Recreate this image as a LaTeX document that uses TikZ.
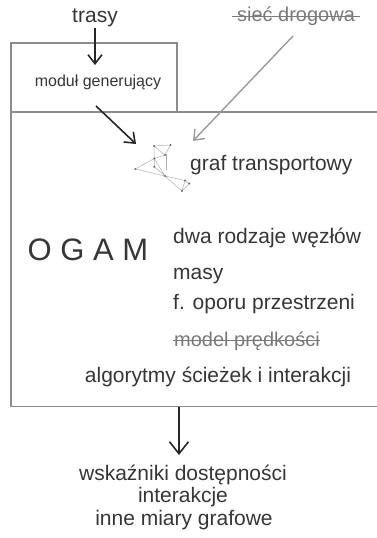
\documentclass[tikz,border=0pt]{standalone}
\usepackage{fontspec}
\setmainfont{Liberation Sans}
\usetikzlibrary{arrows.meta}
\definecolor{txt}{HTML}{363636}
\definecolor{strk}{HTML}{7A7A7A}
\definecolor{boxc}{HTML}{8C8C8C}
\definecolor{grayarr}{HTML}{9A9A9A}
\definecolor{gedge}{HTML}{B0B0B0}
\definecolor{gdot}{HTML}{707070}
\begin{document}
\begin{tikzpicture}[x=1pt,y=-1pt,
  lbl/.style={inner sep=0pt,text=txt,font=\fontsize{21}{24}\selectfont},
  small/.style={inner sep=0pt,text=txt,font=\fontsize{16}{19}\selectfont},
  struck/.style={inner sep=0pt,text=strk,font=\fontsize{20}{24}\selectfont},
  strikeline/.style={draw=strk,line width=1pt},
  boxline/.style={draw=boxc,line width=1.2pt},
  darrow/.style={draw=black!85,line width=1.6pt,-{Straight Barb[length=9pt,width=14pt]}},
  garrow/.style={draw=grayarr,line width=1.4pt,-{Straight Barb[length=9pt,width=14pt]}},
  gedge/.style={draw=gedge,line width=0.5pt},
  gdot/.style={circle,fill=gdot,inner sep=0pt,minimum size=2.2pt}]
\useasboundingbox (0,0) rectangle (377,538);
\fill[white] (0,0) rectangle (377,538);

% boxes
\draw[boxline] (11,112) -- (11,43) -- (177,43) -- (177,112);
\draw[boxline] (380,112) -- (11,112) -- (11,406.5) -- (380,406.5);

% top texts
\node[lbl,anchor=base] (trasy) at (95,23) {trasy};
\node[struck,anchor=base] (siec) at (296,21.5) {sieć drogowa};
\draw[strikeline] ([xshift=-5pt,yshift=5.5pt]siec.base west) -- ([xshift=5pt,yshift=5.5pt]siec.base east);
\node[small,anchor=base] (modul) at (98,86.5) {moduł generujący};

% arrows
\coordinate (trasyend) at (95,65);
\draw[darrow] ([yshift=-5pt]trasy.base) -- (trasyend);
\coordinate (modstart) at (96,106);
\coordinate (modend) at (136,144);
\draw[darrow] (modstart) -- (modend);
\coordinate (siecstart) at (293,36);
\coordinate (siecend) at (193,141);
\draw[garrow] (siecstart) -- (siecend);

% graph icon
\coordinate (gA) at (154,146);
\coordinate (gB) at (170.5,145);
\coordinate (gC) at (165,155);
\coordinate (gC2) at (166.5,154);
\coordinate (gD) at (154.3,158.5);
\coordinate (gE) at (135.3,169);
\coordinate (gF) at (154.3,166.7);
\coordinate (gG) at (165,176);
\coordinate (gG2) at (166.5,170);
\coordinate (gH) at (185,180.5);
\coordinate (gI) at (189.3,183.5);
\coordinate (gJ) at (182,191);
\draw[gedge] (gA) -- (gB) -- (gC) -- (gA) -- (gD) -- (gC);
\draw[gedge] (gC2) -- (gG2);
\draw[gedge] (gD) -- (gE) -- (gG);
\draw[gedge] (gD) -- (gG);
\draw[gedge] (gD) -- (gF) -- (gG);
\draw[gedge] (gG) -- (gH) -- (gI) -- (gJ) -- (gG);
\draw[gedge] (gH) -- (gJ);
\foreach \p in {gA,gB,gC,gD,gE,gF,gG,gH,gI,gJ} \node[gdot] at (\p) {};

\node[lbl,anchor=base west] (graf) at (190,170) {graf transportowy};

% OGAM block
\node[inner sep=0pt,text=txt,font=\fontsize{31}{34}\selectfont,anchor=base west] (ogam) at (27.5,260) {O G A M};
\node[lbl,anchor=base west] (dwa) at (173,243) {dwa rodzaje węzłów};
\node[lbl,anchor=base west] (masy) at (173,279.5) {masy};
\node[lbl,anchor=base west] (opor) at (173,309) {f. oporu przestrzeni};
\node[struck,anchor=base west] (model) at (174,346) {model prędkości};
\draw[strikeline] ([xshift=-1.5pt,yshift=5.5pt]model.base west) -- ([xshift=0pt,yshift=5.5pt]model.base east);
\node[lbl,anchor=base] (algo) at (218,382) {algorytmy ścieżek i interakcji};

% output arrow
\coordinate (outstart) at (179,406.5);
\coordinate (outend) at (179,455);
\draw[darrow,-{Straight Barb[length=12pt,width=19pt]}] (outstart) -- (outend);

% bottom texts
\node[lbl,anchor=base] (wsk) at (183,480) {wskaźniki dostępności};
\node[lbl,anchor=base] (inter) at (183,502.5) {interakcje};
\node[lbl,anchor=base] (inne) at (184,525) {inne miary grafowe};
\end{tikzpicture}
\end{document}
